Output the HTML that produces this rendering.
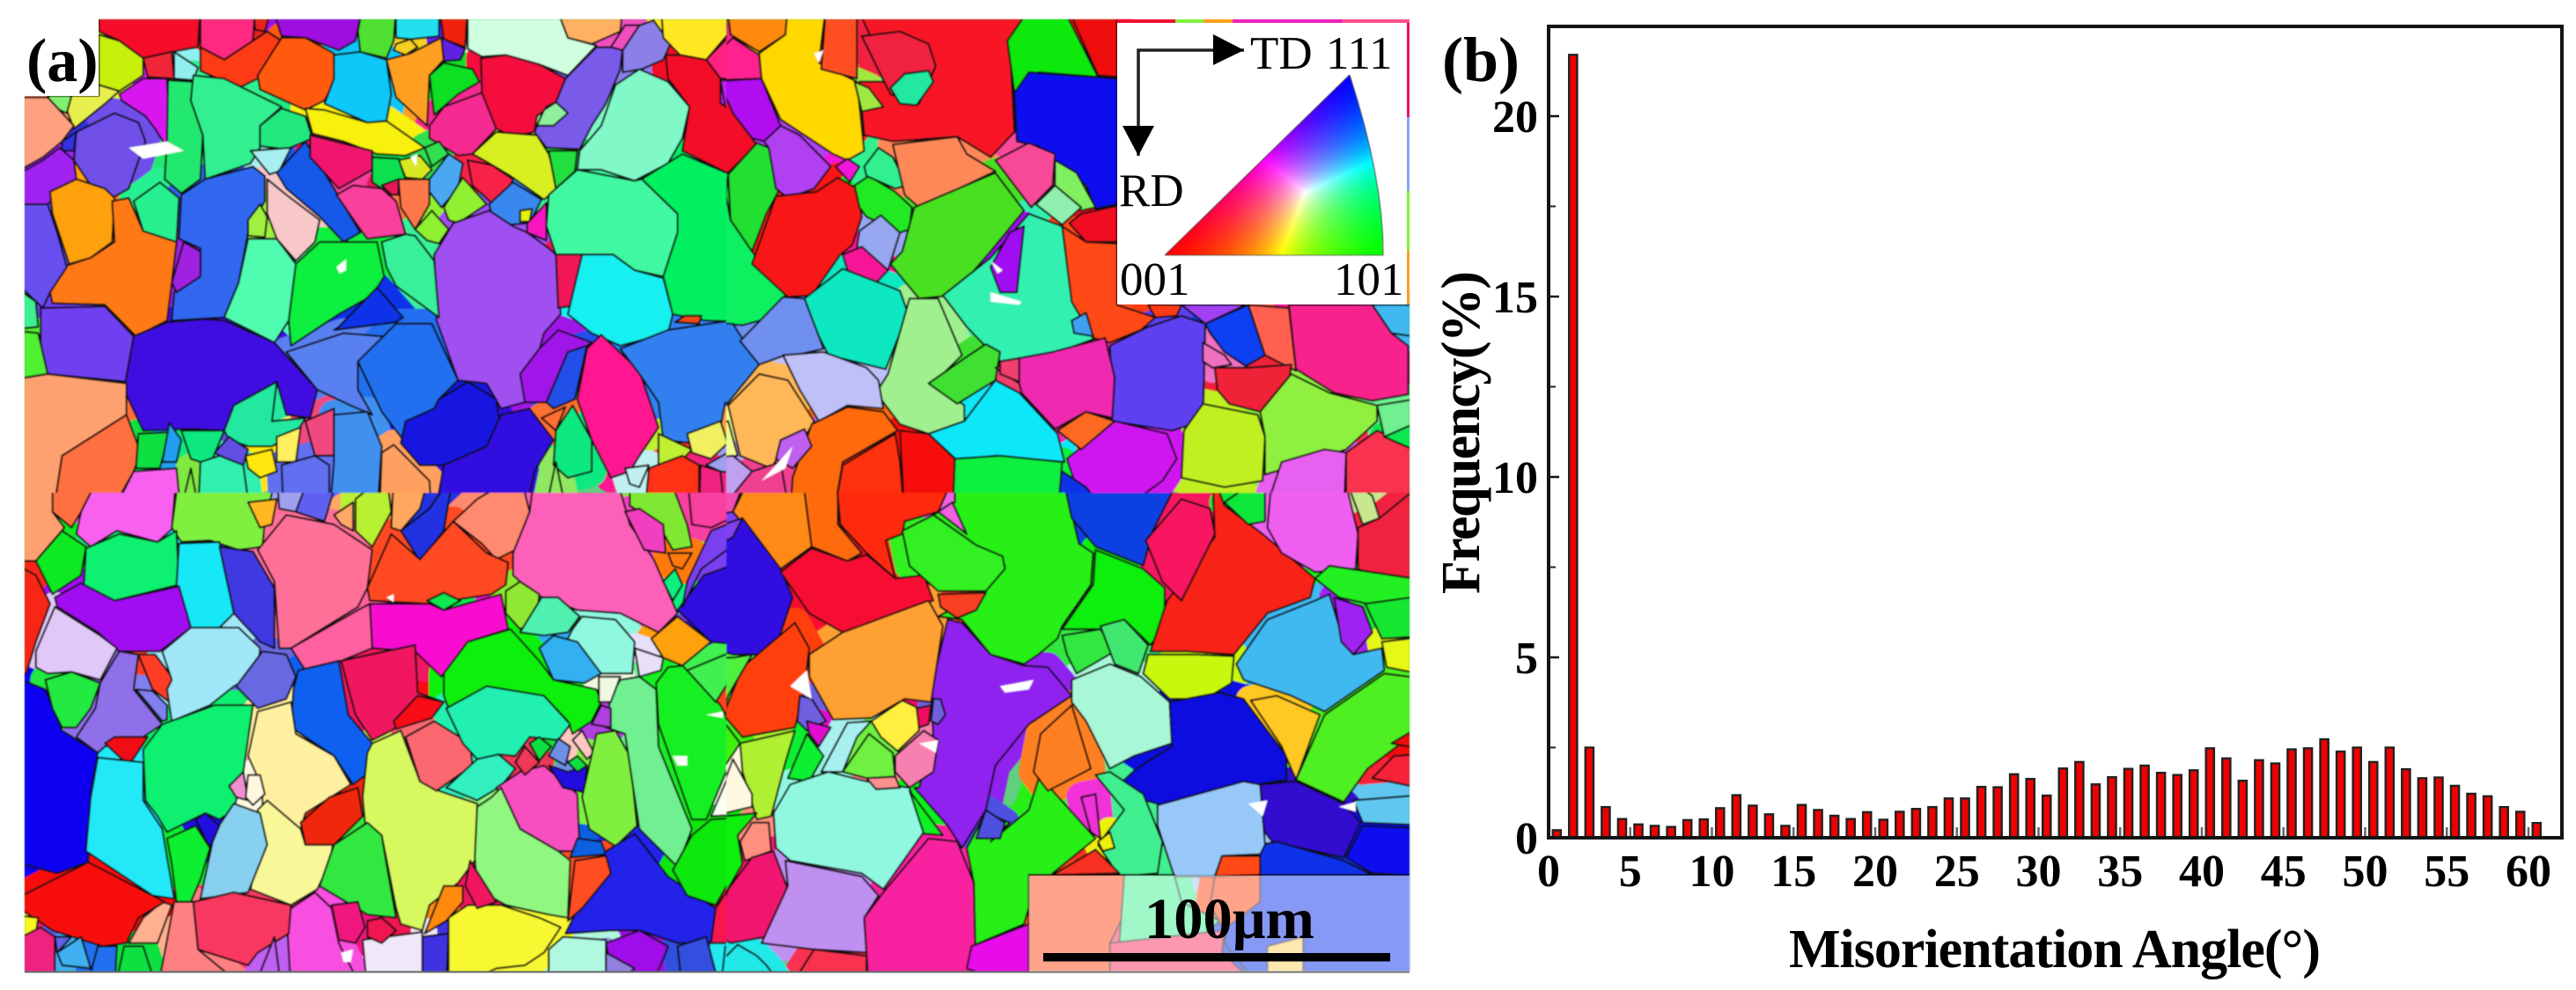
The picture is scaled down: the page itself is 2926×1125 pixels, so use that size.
<!DOCTYPE html>
<html lang="en">
<head>
<meta charset="utf-8">
<title>EBSD orientation map and misorientation histogram</title>
<style>
html,body{margin:0;padding:0;background:#fff;}
#fig{position:relative;width:2926px;height:1125px;overflow:hidden;background:#fff;}
svg{position:absolute;left:0;top:0;}
#ipf{position:absolute;left:1323px;top:85px;}
text{font-family:"Liberation Serif",serif;fill:#000;}
</style>
</head>
<body>
<div id="fig">
<svg id="svg" width="2926" height="1125" viewBox="0 0 2926 1125" xmlns="http://www.w3.org/2000/svg">
  <defs>
    <clipPath id="cTL"><rect x="28" y="22" width="797" height="538"/></clipPath>
    <clipPath id="cTR"><rect x="825" y="22" width="776" height="538"/></clipPath>
    <clipPath id="cBL"><rect x="28" y="560" width="797" height="544"/></clipPath>
    <clipPath id="cBR"><rect x="825" y="560" width="776" height="544"/></clipPath>
    <filter id="soft" filterUnits="userSpaceOnUse" x="0" y="0" width="2926" height="1125"><feGaussianBlur stdDeviation="0.8"/></filter>
  </defs>
  <rect x="28" y="22" width="1573" height="1082" fill="#60d080"/>
  <g id="map" filter="url(#soft)"></g>
  <line x1="28" y1="1104.5" x2="1601" y2="1104.5" stroke="#666" stroke-width="2"/>
  <rect x="0" y="0" width="112" height="109" fill="#fff"/>
  <text x="30" y="92" font-size="70" font-weight="bold">(a)</text>

  <g>
    <rect x="1269" y="22" width="66" height="5" fill="#f01030"/>
    <rect x="1335" y="22" width="32" height="5" fill="#80f040"/>
    <rect x="1367" y="22" width="33" height="5" fill="#ffa020"/>
    <rect x="1400" y="22" width="125" height="5" fill="#f020c0"/>
    <rect x="1525" y="22" width="76" height="5" fill="#ff5090"/>
    <rect x="1597" y="26" width="4" height="107" fill="#f01060"/>
    <rect x="1597" y="133" width="4" height="84" fill="#90a0f8"/>
    <rect x="1597" y="217" width="4" height="68" fill="#80f040"/>
    <rect x="1597" y="285" width="4" height="61" fill="#ffa020"/>
  </g>
  <g>
    <rect x="1269" y="26" width="329" height="320" fill="#fff"/>
    <polyline points="1413,57 1293,57 1293,177" fill="none" stroke="#222" stroke-width="3.5"/>
    <polygon points="1378,39 1413,57 1378,74" fill="#000"/>
    <polygon points="1275,143 1311,143 1293,177" fill="#000"/>
    <text x="1420" y="78" font-size="53">TD</text>
    <text x="1506" y="78" font-size="53">111</text>
    <text x="1271" y="234" font-size="53">RD</text>
    <text x="1272" y="335" font-size="53">001</text>
    <text x="1515" y="335" font-size="53">101</text>
  </g>

  <g>
    <rect x="1168.5" y="995" width="432.5" height="109" fill="#fff" fill-opacity="0.5"/>
    <text x="1300" y="1066" font-size="66" font-weight="bold" textLength="193" lengthAdjust="spacingAndGlyphs">100μm</text>
    <rect x="1185" y="1083" width="394" height="9.5" fill="#000"/>
  </g>

  <text x="1638" y="92" font-size="72" font-weight="bold">(b)</text>
  <g id="chart"></g>
</svg>
<canvas id="ipf" width="252" height="208"></canvas>
</div>

<script>
// ---------- Histogram data ----------
const binCenters = [0.5,1.5,2.5,3.5,4.5,5.5,6.5,7.5,8.5,9.5,10.5,11.5,12.5,13.5,14.5,15.5,16.5,17.5,18.5,19.5,20.5,21.5,22.5,23.5,24.5,25.5,26.5,27.5,28.5,29.5,30.5,31.5,32.5,33.5,34.5,35.5,36.5,37.5,38.5,39.5,40.5,41.5,42.5,43.5,44.5,45.5,46.5,47.5,48.5,49.5,50.5,51.5,52.5,53.5,54.5,55.5,56.5,57.5,58.5,59.5,60.5];
const frequency = [0.21,21.7,2.5,0.85,0.52,0.37,0.33,0.30,0.49,0.51,0.82,1.18,0.89,0.65,0.33,0.91,0.77,0.61,0.52,0.71,0.50,0.72,0.80,0.85,1.09,1.09,1.41,1.40,1.76,1.63,1.17,1.92,2.10,1.48,1.68,1.91,2.00,1.80,1.74,1.87,2.48,2.20,1.58,2.15,2.06,2.45,2.48,2.73,2.39,2.50,2.10,2.50,1.90,1.65,1.67,1.44,1.22,1.15,0.85,0.72,0.41];
const xTickLabels = ["0","5","10","15","20","25","30","35","40","45","50","55","60"];
const yTickLabels = ["0","5","10","15","20"];
const xAxisTitle = "Misorientation Angle(°)";
const yAxisTitle = "Frequency(%)";

// ---------- Orientation map grains (traced regions of the micrograph) ----------
const grainsTL = [
"f5102a 207,62 420,62 415,150 360,165 300,185 250,130 207,100",
"ff2a80 420,62 535,62 530,130 470,190 420,150",
"ff3a18 420,150 470,190 530,130 560,100 590,130 540,250 500,280 420,225",
"e8201a 530,62 570,62 555,100 535,95",
"a010e0 570,62 760,62 745,130 710,160 640,120 590,115",
"ff5a10 590,120 640,120 700,170 705,250 680,320 640,350 545,285 540,240",
"50e030 760,62 830,62 825,130 810,185 755,165 750,100",
"20e0f0 830,62 920,62 920,115 860,125 830,120",
"ffa020 810,190 860,170 925,120 930,190 900,240 895,400 830,310",
"f5d020 830,140 860,125 875,150 850,175 825,160",
"f02010 920,62 980,62 975,150 930,125",
"6020e0 925,120 975,155 965,190 930,195",
"d0ffe0 980,62 1165,62 1190,120 1250,145 1190,240 1130,205 1060,175 1010,180 980,155",
"ffb060 1165,62 1305,62 1300,100 1240,140 1190,120",
"10c8f8 700,175 755,165 810,190 820,300 810,385 770,390 680,330 700,250",
"10e020 900,240 930,200 990,220 1005,260 960,300 910,365",
"f4083c 1008,185 1060,175 1130,205 1185,250 1165,325 1125,370 1120,420 1075,435 1040,410 1010,300",
"f52a90 900,400 930,340 1010,295 1040,410 990,490 960,495 900,440",
"7a5ae8 1185,250 1250,150 1305,150 1300,220 1270,330 1240,400 1215,475 1145,470 1120,420 1145,340 1165,325",
"90f0a0 1125,400 1140,350 1165,325 1190,360 1160,400",
"80f8c8 1210,540 1215,480 1260,400 1290,270 1340,220 1400,260 1445,340 1430,440 1400,520 1330,575 1260,540",
"8a80e8 1305,100 1370,65 1405,140 1390,190 1345,220 1305,230",
"f050c0 1280,150 1310,80 1340,80 1305,160",
"ffe820 1385,62 1525,62 1525,110 1480,190 1425,175 1390,120",
"ff8a10 1525,62 1568,62 1568,140 1530,110",
"ff2080 1525,120 1568,130 1568,255 1510,250 1480,190",
"f41028 1395,175 1425,175 1480,190 1510,250 1510,330 1568,440 1568,510 1530,555 1430,480 1445,340 1400,250",
"c020f0 1510,255 1568,255 1568,430 1520,340",
"c8f010 207,110 250,130 300,185 300,240 250,290 207,270",
"f02838 300,185 360,165 365,250 310,245",
"90f0f0 365,165 415,215 405,255 365,250",
"d818f0 250,300 300,250 350,250 355,430 350,470 325,410 305,370 255,320",
"e8f050 150,305 207,305 207,270 250,290 220,330 155,410 140,350",
"80f070 100,305 150,305 140,360 110,340",
"ffa080 52,310 100,310 155,400 130,450 90,500 52,560",
"20e870 352,255 405,260 400,320 425,430 420,570 380,615 345,570 350,450",
"30f090 405,240 470,250 590,340 545,400 545,470 525,520 430,570 425,430 400,320",
"20e880 545,400 590,345 640,370 655,440 600,475 545,465",
"f8f010 640,345 680,350 770,390 810,385 890,470 850,495 790,490 720,450 655,425",
"7050e8 160,420 240,360 290,390 305,450 295,490 270,600 235,630 190,590 155,510",
"3030e0 130,450 160,420 155,480 130,480",
"a020f0 52,570 90,510 125,470 155,510 160,570 100,650 52,650",
"ffa008 105,610 160,570 220,600 240,630 235,770 190,820 145,840 110,680",
"ff7a18 235,640 270,630 300,735 370,770 360,900 350,1020 285,1070 220,970 110,965 105,930 140,845 190,820 240,770",
"28f090 280,640 335,580 375,630 370,770 300,735",
"3068f0 380,620 430,570 530,530 555,560 555,640 520,740 500,900 470,1010 360,1020 365,930 420,860 420,790 375,760",
"a8f0f0 525,480 610,470 585,545 565,555",
"1858e8 580,550 640,450 700,600 755,740 720,770 670,690 600,600",
"f8c8c8 560,570 600,620 670,700 660,770 620,830 580,760 560,680",
"f01870 650,430 780,480 780,540 710,600 650,500",
"d8e820 835,510 880,495 905,540 885,570 850,565",
"10e050 780,500 835,505 850,570 800,600 780,580",
"f8409c 705,620 740,590 800,600 830,640 850,745 770,760 755,730",
"e81858 800,590 835,570 835,620 820,620",
"ff7848 835,570 900,570 900,650 870,730 840,660",
"48a8f0 900,570 940,490 970,520 960,600 925,660 900,610",
"30e050 890,470 920,450 940,490 905,530",
"90f030 930,660 970,565 1020,650 960,710 940,700",
"90f030 870,730 905,670 940,730 920,775 895,765",
"d8f020 990,490 1040,420 1125,430 1150,490 1170,600 1140,635 1070,560 1020,515",
"f8204a 980,510 1030,525 1075,570 1060,630 1030,645 990,590",
"3888f0 1025,650 1075,580 1135,635 1110,710 1065,715 1030,680",
"e8f010 1090,670 1115,665 1110,705 1090,705",
"f818c0 1105,710 1145,645 1145,765 1105,740",
"20e040 1150,480 1210,480 1205,545 1165,600",
"40f8a0 1150,620 1210,540 1330,575 1345,570 1420,680 1420,740 1390,880 1330,860 1285,810 1165,810 1145,720",
"a050f0 910,810 950,710 1025,670 1075,720 1105,740 1150,790 1165,810 1175,1000 1140,1060 1100,1280 1050,1300 1020,1220 960,1210 915,1020",
"f01858 1165,810 1220,810 1215,970 1170,980",
"18f0f0 1220,810 1285,810 1330,860 1390,885 1410,1000 1400,1060 1300,1100 1240,1060 1190,1000",
"00f060 1345,570 1430,490 1530,555 1568,570 1568,1030 1480,1020 1410,1000 1390,880 1420,740 1420,680",
"f04818 1415,1025 1435,1005 1470,1005 1465,1030",
"38f098 800,770 850,745 870,750 910,830 920,1010 830,910 810,850",
"10f040 620,840 670,770 720,770 790,770 805,880 780,940 710,1000 610,1100 605,1020",
"50fcb0 520,760 580,760 620,840 605,1020 575,1090 470,1010 500,900",
"0830e8 710,1040 790,915 845,1010 830,1025 700,1050",
"a0f040 520,700 545,650 560,690 555,755 520,750",
"a020e0 360,900 385,770 420,800 420,880 370,930",
"6850f0 52,650 100,650 120,740 140,850 105,930 90,980 52,880",
"40f090 52,900 75,960 80,1040 52,1050",
"7040f0 85,980 220,975 280,1070 265,1215 100,1190 85,1100",
"4010e0 280,1070 350,1025 430,1015 470,1020 575,1090 665,1240 650,1330 600,1320 580,1215 490,1290 470,1370 400,1365 300,1370 260,1240",
"5880f0 600,1120 720,1060 800,1070 805,1090 750,1150 750,1240 780,1320 735,1290 665,1240",
"2070f0 750,1150 830,1030 905,1030 960,1210 920,1270 910,1300 850,1350 850,1410 800,1310",
"50f030 52,1050 80,1060 100,1190 52,1210",
"ffa070 52,1210 100,1190 265,1220 265,1320 130,1450 110,1568 52,1568",
"ff7040 130,1450 265,1320 295,1440 280,1500 225,1568 110,1568",
"f860f0 230,1568 280,1500 370,1490 380,1568",
"1818e0 920,1270 980,1215 1040,1270 1050,1380 1020,1420 930,1480 880,1480 840,1410 850,1340 910,1300",
"3010e0 1050,1320 1110,1300 1160,1400 1120,1500 1100,1568 910,1568 930,1480 1020,1420",
"ff1490 1210,1270 1230,1110 1260,1065 1340,1180 1380,1360 1340,1450 1320,1500 1280,1520 1240,1400",
"a018e8 1090,1190 1130,1110 1170,1050 1240,1090 1190,1140 1145,1280 1100,1280",
"2050e8 1145,1280 1190,1120 1230,1100 1205,1270 1160,1300",
"3080f0 1300,1110 1400,1050 1530,1020 1568,1120 1568,1240 1520,1280 1510,1360 1450,1410 1390,1400 1380,1280 1340,1190",
"10e880 1165,1370 1200,1290 1240,1400 1240,1500 1190,1520 1160,1480",
"ff7030 1135,1330 1185,1295 1165,1370",
"20e8a0 470,1370 490,1290 580,1215 570,1340 640,1330 620,1380 570,1420 520,1420 480,1400",
"10e040 290,1380 355,1375 335,1490 285,1490",
"20a0f0 355,1345 380,1400 370,1470 340,1470",
"10e880 380,1370 470,1370 440,1480 400,1460",
"6050e0 450,1440 480,1390 520,1430 510,1480 460,1450",
"fff060 580,1390 630,1360 620,1470 580,1470",
"ffe810 515,1450 570,1430 580,1500 545,1520 520,1490",
"f04880 640,1340 700,1300 700,1450 660,1450",
"4090f0 700,1320 770,1310 800,1420 790,1568 690,1568 700,1470",
"ffa060 800,1440 825,1415 900,1530 905,1568 795,1568",
"30f0b0 420,1470 460,1450 510,1480 525,1568 415,1568",
"6070f0 590,1480 660,1450 690,1480 690,1568 595,1568",
"80e840 375,1568 400,1490 420,1568",
"90e860 1140,1568 1165,1470 1190,1568",
"c0f030 1380,1380 1450,1430 1420,1480 1380,1480",
"f0f060 1440,1380 1510,1340 1525,1410 1490,1460 1450,1440",
"ff3018 1360,1490 1430,1450 1465,1480 1465,1568 1350,1568",
"c0f0f0 1310,1490 1360,1480 1340,1550 1320,1540",
"ffa040 1530,1340 1568,1210 1568,1500 1535,1460",
"a0a0f0 1480,1480 1525,1440 1568,1460 1568,1530 1510,1500",
"f02080 1468,1480 1510,1500 1520,1568 1465,1568"
];
const grainsTR = [
"ffe820 0,62 48,62 45,120 0,190",
"ff8a10 48,62 175,62 170,110 115,165 55,110",
"ff2090 10,195 60,120 115,175 120,250 30,255",
"f41028 0,195 30,260 60,360 110,460 50,550 0,510",
"b010f0 30,258 120,250 160,400 125,450 100,440 60,360",
"ffd800 115,170 170,110 175,62 255,62 240,200 320,260 335,480 300,510 270,490 200,420 160,380 120,250",
"ff5020 255,62 320,62 320,130 320,250 245,220",
"f81828 320,62 685,62 640,130 650,420 600,500 530,435 395,450 335,430 325,260 390,260",
"f02040 330,115 410,100 470,140 485,210 450,330 390,300",
"20e8a0 390,280 420,235 470,225 480,260 445,335 410,330",
"a0e840 315,260 345,280 375,340 330,355",
"10e810 635,130 685,62 750,62 825,245 700,230 650,295",
"f00810 760,62 865,62 865,245 825,240",
"0808f0 650,295 680,230 865,250 865,650 820,665 800,590 730,505 700,465 655,450",
"80f060 735,510 780,550 820,660 790,670 735,590",
"90f0b0 695,650 735,590 790,660 750,715",
"f00a20 765,710 790,680 865,655 865,770 800,770",
"f84898 610,510 680,455 735,490 730,590 685,660",
"10f060 0,530 50,550 45,620 55,700 100,800 170,940 165,1000 80,1035 0,1010",
"20e030 50,555 110,455 135,470 155,610 130,680 100,800 55,700",
"b040f0 125,450 160,400 200,430 265,530 230,600 175,630 150,600 135,470",
"f018d8 275,530 300,505 325,530 305,580",
"f81818 100,840 150,625 235,610 280,565 320,600 330,690 310,780 285,810 225,940 175,945",
"20ea20 315,590 345,560 400,610 435,660 430,730 410,740 340,690 325,660",
"30f090 335,530 365,470 395,500 425,590 400,600 340,560",
"ff8858 395,460 530,435 550,490 610,545 450,660 420,620",
"48e020 415,800 440,660 610,550 670,670 600,800 520,940 450,950 390,840",
"98a8f0 325,735 370,685 410,740 385,860 320,785",
"f81898 290,810 330,785 385,860 360,900 300,860",
"10e8c0 210,950 290,855 350,890 410,925 425,990 410,1060 380,1175 260,1130 230,1040",
"30f0b0 500,940 600,820 680,680 750,720 760,810 790,970 815,1080 740,1120 620,1150 550,1040",
"a0f090 385,1190 430,950 490,950 540,1130 480,1220 545,1290 545,1340 470,1380 410,1350 360,1250",
"40e030 470,1220 555,1130 590,1095 620,1120 610,1210 530,1285",
"a010f0 600,850 640,740 670,720 655,930 620,930",
"ff4a18 750,720 800,770 865,775 865,970 945,1010 915,1050 850,1090 815,1075 770,960",
"40a0f0 770,1020 800,995 815,1070 775,1060",
"ff3a18 930,970 1000,970 990,1005 945,1010",
"a040f0 1000,970 1135,970 1050,1030",
"5f40f0 850,1100 930,1040 1000,1005 1050,1030 1045,1340 980,1370 855,1340",
"0840f0 1050,1030 1140,970 1175,1130 1135,1165 1090,1120 1060,1060",
"ff6050 1140,970 1225,980 1240,1180 1175,1130",
"f8208c 1225,970 1400,970 1440,1060 1475,1100 1475,1255 1400,1275 1320,1250 1240,1175",
"40b8f0 1400,970 1478,970 1478,1080 1440,1060",
"f02038 1070,1170 1140,1170 1230,1160 1225,1230 1165,1310 1100,1285 1075,1240",
"f070c0 1045,1090 1090,1130 1105,1160 1065,1170 1045,1150",
"c0f020 1005,1370 1045,1285 1160,1320 1175,1390 1170,1530 1090,1550 1000,1520",
"90f040 1165,1310 1230,1190 1310,1250 1410,1290 1410,1340 1345,1430 1220,1490 1175,1510 1175,1390",
"f83050 1345,1440 1410,1370 1478,1450 1478,1568 1345,1568",
"70f090 1410,1290 1478,1260 1478,1320 1425,1390",
"10e850 1425,1390 1478,1320 1478,1460",
"e860f0 1170,1568 1210,1470 1300,1430 1345,1440 1340,1568",
"d018f0 760,1460 860,1340 970,1380 990,1460 960,1530 850,1568 775,1530",
"1030e8 740,1490 800,1550 850,1568 740,1568",
"ff6a20 740,1370 800,1310 860,1340 790,1430",
"10e8f8 470,1380 545,1340 610,1210 660,1250 740,1380 755,1470 610,1450 530,1465",
"f02cb0 610,1170 660,1140 730,1120 840,1075 860,1200 855,1330 800,1310 735,1365 665,1250 660,1220",
"f04070 620,1150 660,1140 660,1215 620,1190",
"3080f0 0,1030 60,1030 115,1160 45,1290 0,1380",
"7090f0 75,1085 165,945 210,950 250,1110 190,1130 170,1130 115,1160",
"c0c0f8 165,1130 250,1120 340,1170 365,1210 375,1300 300,1290 240,1340 200,1240",
"ffb858 50,1290 115,1190 175,1210 230,1340 200,1420 160,1440 140,1490 75,1450",
"f0ff90 0,1400 50,1340 70,1450 0,1470",
"ff6a10 185,1520 225,1350 300,1295 375,1310 405,1370 290,1470 270,1568 180,1568",
"ff3010 270,1568 290,1480 400,1380 410,1470 420,1568",
"f81010 410,1370 470,1380 525,1460 525,1568 420,1568",
"10f040 525,1460 620,1450 750,1470 740,1568 520,1568",
"c060f0 160,1400 210,1365 225,1420 185,1490 150,1460",
"c0a0f0 0,1480 60,1450 100,1500 20,1568 0,1568",
"f04090 100,1500 160,1470 180,1568 20,1568"
];
const grainsBL = [
"ffa070 52,0 110,0 110,60 135,110 75,215 52,215",
"ff7040 110,0 210,0 170,60 150,110 110,60",
"f860f0 210,0 370,0 360,115 330,155 245,120 190,170 160,130 170,60",
"80f040 375,0 580,0 555,90 550,170 500,180 440,150 380,155 360,110",
"ffb820 520,30 580,20 570,100 545,110",
"a0a0f0 580,0 650,0 620,60 585,50",
"6060f0 620,60 650,0 710,0 680,90",
"ffa868 700,70 740,30 740,120 715,100",
"b8f030 745,20 810,0 820,60 780,170 745,120",
"ffa860 825,0 900,0 880,50 840,120 820,110",
"2030e0 840,120 900,50 950,0 930,120 880,215",
"ff8a70 950,90 1000,20 1090,0 1110,60 1080,180 1040,210 1010,160",
"fc60b8 1075,190 1110,60 1120,0 1290,0 1320,100 1370,210 1420,380 1380,440 1300,380 1210,370 1120,320 1075,260",
"10ea20 75,215 130,120 180,170 170,260 110,320",
"10f070 180,175 250,130 330,155 370,120 375,290 240,340 175,310",
"18e8f8 375,160 460,155 490,380 460,425 400,425 370,290",
"4038e0 460,170 530,185 575,300 575,490 545,470 490,380",
"ff7098 540,180 600,70 700,100 780,180 770,300 750,360 610,490 585,490 575,280",
"ff4a20 770,300 820,130 880,210 950,90 1020,190 1065,220 1060,290 1030,320 900,350 775,340",
"f810d0 775,350 900,350 930,370 1050,320 1065,430 980,470 925,580 870,500 780,490",
"10e850 895,340 930,315 965,340 930,370",
"ff60a0 610,490 750,370 775,350 780,490 715,530 640,560",
"90e830 1060,310 1090,280 1130,320 1125,400 1090,430 1060,380",
"50f0b0 1090,440 1135,330 1170,330 1215,390 1190,440 1140,450",
"90f8e0 1200,430 1220,390 1290,400 1330,470 1325,570 1255,570 1190,460",
"30b0f0 1130,490 1160,450 1210,470 1260,570 1225,600 1160,590",
"ffa010 1365,460 1420,390 1490,470 1430,545 1390,520",
"e8e0f8 1330,490 1390,520 1385,560 1340,580",
"3010e0 1420,370 1475,260 1568,140 1568,500 1490,470",
"7a40f0 1430,360 1440,280 1490,120 1540,90 1550,150 1470,240",
"10f080 1390,280 1415,240 1430,290 1410,340",
"80e830 1320,0 1400,0 1440,100 1450,170 1410,180 1380,100 1320,40",
"f040c0 1310,60 1340,50 1390,100 1395,190 1350,180",
"f840a0 1440,0 1568,0 1560,60 1490,110 1450,100",
"ff7a10 1400,190 1450,190 1430,240 1410,230",
"f82818 52,215 75,260 105,350 75,470 55,570 52,570",
"a010f0 115,330 170,285 240,340 375,295 400,425 335,500 250,500 205,440 120,360",
"e0c8f8 75,500 115,360 210,450 245,490 210,590 150,565 100,570 75,550",
"1000f0 52,575 95,620 130,750 205,820 190,950 185,1165 120,1200 52,1160",
"20ea40 95,590 150,565 210,600 190,680 160,740 130,740 110,680",
"9070e8 160,770 200,680 210,600 250,500 290,510 280,620 340,730 300,770 220,800 205,820",
"ff3c28 290,510 325,510 365,590 355,660 320,620",
"8080f0 285,620 320,625 350,670 350,715 340,720",
"a0e8f8 340,500 400,425 500,425 545,490 540,570 490,610 440,670 360,720 350,620 360,590",
"6868e0 495,610 550,500 600,510 620,580 600,650 540,680",
"1060f0 615,620 625,560 710,530 730,700 780,790 775,880 740,920 700,830 610,740",
"f01860 715,530 870,480 875,630 930,660 820,750 780,780 745,700",
"f80818 825,720 875,640 930,660 905,710 830,745",
"f00818 220,790 240,770 310,770 270,860",
"10f070 300,810 340,730 450,670 530,670 510,880 490,1000 460,1030 430,1010 350,1070 330,1020 305,970",
"20e8f8 205,835 300,850 300,970 340,1060 365,1280 320,1270 180,1130 190,960",
"fff0a0 520,830 540,690 610,660 620,760 700,830 735,920 640,1010 630,1060 550,990 550,930",
"f8f898 540,1000 560,970 630,1060 640,1110 700,1090 690,1170 665,1250 610,1300 525,1250 550,1070",
"88d0f0 420,1280 450,1070 490,980 545,1010 560,1110 520,1260",
"10f030 360,1170 350,1090 410,1050 440,1120 420,1220 400,1290 370,1290",
"2010e0 410,1030 430,1010 460,1050 440,1120",
"f090d0 480,925 510,880 520,970 495,960",
"fff8e0 520,890 545,890 555,950 530,985 515,960",
"d8f860 770,820 780,790 840,750 880,910 920,940 1000,980 1000,1100 1000,1150 960,1230 900,1300 885,1380 840,1360 830,1310 800,1080 765,1040 760,960",
"f02810 630,1040 690,960 750,930 760,1020 700,1110 640,1110",
"30e840 670,1240 700,1110 770,1040 800,1080 810,1170 830,1340 770,1330",
"fc6870 850,770 910,720 985,790 990,860 915,940 880,910",
"10f010 930,640 930,570 980,470 1070,430 1130,530 1160,590 1250,620 1260,660 1240,720 1200,760 1190,720 1140,640 1020,610 940,680",
"20f0b0 935,680 1020,610 1140,640 1195,730 1170,780 1110,770 1080,830 1045,825 1000,840 970,790",
"30f0c0 935,930 1000,840 1045,825 1080,870 1050,925 1000,970",
"f850c0 1040,930 1090,880 1140,860 1210,950 1215,1130 1170,1130 1090,1060",
"90f880 1000,990 1030,960 1050,930 1090,1060 1170,1130 1195,1160 1190,1340 1150,1330 1060,1300 1000,1250 995,1150",
"2010e0 1150,860 1190,880 1230,860 1225,945 1180,930",
"10e040 1190,850 1210,830 1230,860 1210,880",
"7090e8 1150,830 1170,775 1195,800 1185,860",
"10e040 1110,790 1130,770 1155,800 1130,845",
"f03858 1080,850 1100,800 1130,850 1100,890",
"ffc8c0 1200,780 1220,750 1245,820 1230,840",
"80f040 1220,960 1250,760 1290,750 1320,830 1335,1050 1290,1115 1235,1060",
"70f090 1280,640 1300,590 1340,580 1375,620 1380,800 1450,1060 1420,1180 1340,1060 1310,760 1270,740",
"18f020 1375,600 1400,550 1430,545 1510,670 1545,770 1530,850 1480,1030 1450,1030 1380,730",
"f8fff0 1490,1020 1530,880 1568,830 1568,1000",
"40f050 1440,560 1520,510 1568,520 1530,590 1500,660",
"ff4020 1520,700 1560,560 1568,560 1568,780 1530,750",
"88e830 1555,780 1568,770 1568,850 1550,850",
"f0f8e0 1255,580 1300,580 1280,660 1255,660",
"b040e0 1240,730 1260,670 1280,680 1280,740",
"1060e0 1195,1150 1210,1090 1260,1100 1270,1140",
"2020e8 1185,1390 1270,1130 1330,1075 1400,1210 1500,1310 1490,1420 1420,1420 1340,1380 1280,1380",
"ff5020 1190,1350 1205,1160 1270,1145 1280,1200 1220,1310",
"10e810 1410,1190 1450,1080 1490,1030 1568,1010 1568,1090 1530,1220 1500,1300 1440,1270",
"f81850 1500,1310 1530,1240 1568,1130 1568,1420 1490,1420",
"a010e8 1270,1420 1340,1380 1400,1430 1390,1470 1360,1510 1290,1510",
"3050e0 1420,1430 1480,1400 1510,1510 1430,1510",
"b0f8e0 1150,1440 1180,1400 1270,1410 1270,1510 1150,1510",
"f8f830 940,1340 980,1300 1050,1300 1130,1340 1175,1370 1140,1450 1100,1490 1040,1500 940,1510",
"ff8a10 890,1390 930,1240 970,1240 970,1290 935,1350",
"f01860 975,1240 985,1160 1040,1290 1000,1310",
"4030e0 885,1400 940,1390 935,1510 885,1510",
"f0e8f8 760,1410 885,1385 885,1510 770,1510",
"f01850 770,1350 800,1340 830,1380 800,1420 770,1400",
"f01880 695,1300 750,1290 765,1370 745,1420 710,1410",
"f850e0 600,1320 660,1260 695,1310 710,1420 760,1510 610,1510",
"f83860 405,1290 490,1260 610,1300 605,1390 540,1450 520,1490 415,1440",
"ff8080 330,1510 365,1290 405,1290 415,1440 520,1510",
"ffb090 270,1420 300,1340 340,1290 360,1300 330,1420",
"f80810 52,1290 185,1165 345,1290 290,1340 265,1420 215,1430 110,1380",
"f8f820 52,1330 80,1340 75,1390 52,1420",
"f02080 52,1420 85,1370 115,1400 115,1510 52,1510",
"6060e8 115,1400 150,1400 120,1450",
"40b0f0 120,1450 170,1400 190,1500 130,1490",
"2070f0 180,1510 205,1430 245,1430 240,1510",
"10e040 240,1510 260,1430 300,1430 330,1510",
"c060f0 530,1510 575,1400 590,1510",
"20e8f0 1510,1510 1520,1430 1568,1420 1568,1510",
"9080e0 1270,1450 1330,1500 1270,1510"
];
const grainsBR = [
"f050b0 0,0 90,0 60,60 0,100",
"ff8a18 60,60 100,0 205,0 225,170 160,240 100,130",
"ff6a10 205,0 280,0 280,100 330,190 300,215 225,170",
"ff2a10 275,0 525,0 490,60 420,90 415,130 380,150 400,270 340,190 285,100",
"3010e0 0,190 80,80 160,240 185,330 145,510 60,510 0,440",
"8040f0 0,170 80,80 60,140 0,260",
"f81030 160,250 225,175 300,215 340,195 400,270 460,260 480,340 290,440 220,380",
"28f018 525,0 750,0 785,160 815,190 810,290 750,420 740,460 700,510 670,540 600,510 540,400 490,390 590,310 630,230 570,165 480,70 525,30",
"30f020 415,120 480,70 570,165 625,200 630,240 590,310 490,310 430,230",
"f060e0 490,60 520,30 550,130",
"0840e0 750,0 1000,0 940,120 920,230 820,170 770,80",
"10f010 820,180 920,240 965,300 965,420 935,480 880,400 835,430 750,430 815,290",
"f82018 1065,0 1090,40 1170,130 1280,270 1270,330 1180,380 1110,510 1010,500 935,500 970,340 1070,140",
"f81860 925,150 1000,20 1060,50 1070,130 1000,340 960,280",
"10e838 1090,30 1175,0 1175,90 1140,100",
"f060f0 1180,110 1190,0 1340,0 1370,130 1365,240 1280,250 1210,190",
"c8e890 1340,0 1400,10 1415,80 1380,100",
"f02040 1370,110 1415,80 1478,0 1478,280 1420,270 1370,240",
"20f020 1280,270 1310,230 1478,280 1478,340 1390,350 1330,330",
"40b8f0 1115,540 1180,400 1280,340 1310,320 1330,420 1360,510 1420,490 1425,560 1300,690 1230,640 1130,590",
"a020f0 1320,330 1380,360 1400,440 1360,510 1335,470",
"18e830 1385,350 1478,320 1478,450 1420,460",
"e8f818 1420,470 1478,450 1478,580 1430,550",
"c8f810 920,570 930,510 1030,510 1110,515 1105,600 1050,650 975,650",
"30e840 750,450 830,430 860,500 780,570 760,510",
"40e870 830,420 880,400 930,480 910,570 860,540",
"a8f8d8 770,590 850,540 915,580 975,660 980,790 900,830 850,870 800,720 770,660",
"0810e0 870,920 905,870 980,800 975,660 1080,630 1130,650 1220,830 1220,905 1160,920 1080,940 960,985 900,960",
"ffc820 1145,655 1200,640 1290,700 1240,905 1210,800",
"50f020 1240,905 1300,700 1425,570 1478,590 1478,710 1390,870 1340,975",
"f82038 1400,900 1445,830 1478,820 1478,940",
"f01010 1440,790 1478,710 1478,815",
"60c8f0 1360,970 1478,950 1478,1050 1380,1040",
"3010d0 1165,920 1240,910 1340,980 1375,1040 1340,1150 1190,1100 1170,1060",
"0808f0 1345,1150 1380,1050 1478,1060 1478,1210 1400,1200",
"1030e8 1165,1110 1200,1100 1340,1160 1400,1205 1165,1205",
"98c8f8 950,1050 950,985 1130,910 1165,920 1175,1110 1165,1140 1085,1145 1070,1210 985,1210",
"ff4a18 1070,1210 1085,1145 1165,1145 1165,1210",
"28f018 520,1440 565,1230 550,1120 590,1010 640,1040 600,1100 680,1000 705,880 730,940 820,1090 730,1200 680,1310 670,1360 560,1430",
"9020f0 450,930 480,780 475,620 510,400 540,410 600,510 670,545 720,550 770,640 680,730 610,860 590,1000 540,1120 510,1050 440,930",
"40f090 825,1110 880,1000 820,890 850,880 920,950 960,1100 950,1200 870,1210",
"f83020 730,1205 820,1125 870,1200",
"ff8020 690,880 705,760 770,670 810,870 720,940",
"f84020 490,320 590,315 570,370 530,395 495,360",
"ffa030 220,510 290,440 470,340 500,420 475,660 420,650 350,710 270,715 220,580",
"fff040 350,720 415,655 450,680 450,750 405,815 370,770",
"f01060 445,680 475,670 470,730 450,740",
"7060e0 480,650 495,650 505,700 490,730 475,720",
"f880b0 400,830 460,750 490,780 480,880 430,930 400,880",
"ff4010 40,700 80,550 190,410 220,490 210,620 190,740 80,770",
"7060e0 195,720 200,640 225,650 255,720 215,750",
"e010d0 215,720 240,730 265,740 240,800 220,760",
"b0f030 75,790 190,750 170,850 140,1020 110,1030 80,880",
"40f010 0,760 40,720 75,790 35,880 0,1000",
"50f040 0,520 60,520 100,510 50,640 40,690 0,680",
"fff8e0 15,1020 60,840 100,950 100,990",
"10f010 0,1040 110,1010 70,1080 80,1170 30,1300 0,1290",
"10f030 175,900 215,760 250,830 220,910",
"a8f0f0 245,880 300,725 350,720 320,770 290,880",
"70f040 290,880 345,760 395,820 400,900 340,900",
"90f8e0 145,1010 180,920 260,880 340,910 430,930 460,1070 375,1250 330,1200 180,1160 150,1120",
"ff9090 340,900 400,895 410,930 360,935",
"10f020 430,940 500,1080 460,1075",
"ff9080 75,1100 100,1040 135,1040 140,1130 85,1160",
"f01870 20,1390 50,1250 100,1150 145,1130 175,1250 130,1400 55,1420",
"c090f0 120,1420 175,1240 170,1160 330,1210 365,1270 335,1340 340,1450 230,1440",
"f820a0 335,1340 375,1260 470,1090 530,1100 565,1230 570,1510 345,1510",
"e808e8 550,1500 560,1430 680,1360 680,1510",
"5050e0 570,1090 590,1000 630,1040 620,1090",
"f83050 175,1510 230,1440 340,1460 340,1510",
"20e8e8 40,1470 70,1425 110,1460 130,1490 170,1510 40,1510",
"4030e0 0,1510 0,1400 35,1510",
"3010e0 0,1290 20,1310 15,1400 0,1400",
"f030d8 790,960 820,950 830,1090 810,1070",
"f0f010 825,1100 850,1070 860,1120 835,1130",
"ff4a18 680,1205 880,1205 890,1300 850,1420 850,1510 680,1510",
"40f090 880,1205 985,1205 1000,1290 1080,1350 1040,1400 870,1420",
"f83060 850,1420 1090,1380 1085,1450 1170,1510 850,1510",
"ff4a18 1060,1300 1070,1210 1165,1205 1165,1290 1090,1380",
"1030e8 1165,1205 1478,1205 1478,1510 1170,1510 1090,1420 1095,1370 1165,1290",
"ffd060 1180,1430 1255,1400 1255,1510 1180,1510"
];
const specksTL = [
"270,470 350,450 385,480 300,505",
"705,850 725,825 725,860 712,870",
"860,500 875,490 872,530"
];
const specksTR = [
"600,930 665,960 660,970 600,960",
"600,830 625,860 615,870",
"230,170 250,160 240,200",
"150,1480 185,1420 170,1490 120,1530"
];
const specksBL = [
"715,1450 740,1440 735,1480 720,1480",
"1410,830 1440,830 1440,860 1420,860",
"810,330 825,320 825,345",
"1480,700 1515,690 1515,710"
];
const specksBR = [
"620,610 690,590 680,620 630,630",
"180,610 215,560 225,650",
"450,790 490,780 485,820",
"1140,980 1180,970 1170,1020",
"1330,990 1365,975 1365,1005"
];

// ---------- Axis functions ----------
function xScale(v){ return 1759 + v * 18.55; }
function yScale(v){ return 952 - v * 41; }

const NS = 'http://www.w3.org/2000/svg';
const chart = document.getElementById('chart');
const map = document.getElementById('map');

function mk(tag, attrs, parent){
  const el = document.createElementNS(NS, tag);
  for (const k in attrs) el.setAttribute(k, attrs[k]);
  parent.appendChild(el);
  return el;
}

// ---------- Map drawing ----------
function transformPoints(str, q){
  return str.trim().split(/\s+/).map(function(p){
    const c = p.split(',');
    let x = +c[0], y = +c[1];
    if (q.top){ if (y <= 62) y = 20; if (y >= 1568) y = 1650; }
    else { if (y <= 0) y = -60; if (y >= 1510) y = 1570; }
    if (q.left){ if (x <= 52) x = 20; if (x >= 1568) x = 1700; }
    else { if (x <= 0) x = -100; if (x >= 1478) x = 1530; }
    return (q.ox + x * q.kx).toFixed(1) + ',' + (q.oy + y * q.ky).toFixed(1);
  }).join(' ');
}
const quadTL = {id:'cTL', top:true,  left:true,  ox:0,   oy:0,   kx:1/1.845, ky:1/2.8};
const quadTR = {id:'cTR', top:true,  left:false, ox:800, oy:0,   kx:1/1.845, ky:1/2.8};
const quadBL = {id:'cBL', top:false, left:true,  ox:0,   oy:560, kx:1/1.845, ky:1/2.775};
const quadBR = {id:'cBR', top:false, left:false, ox:800, oy:560, kx:1/1.845, ky:1/2.775};

function drawQuad(grains, specks, q){
  const g = mk('g', {'clip-path':'url(#' + q.id + ')'}, map);
  
  
  // first pass: dilated colour underlay so small gaps between traced grains take a neighbour's colour
  grains.forEach(function(s){
    const i = s.indexOf(' ');
    const el = mk('polygon', {
      points: transformPoints(s.slice(i + 1), q),
      fill: '#' + s.slice(0, i),
      stroke: '#' + s.slice(0, i),
      'stroke-width': 34,
      'stroke-linejoin': 'round'
    }, g);
    
    
  });
  grains.forEach(function(s){
    const i = s.indexOf(' ');
    const el = mk('polygon', {
      points: transformPoints(s.slice(i + 1), q),
      fill: '#' + s.slice(0, i),
      stroke: '#111',
      'stroke-width': 2.2,
      'stroke-linejoin': 'round'
    }, g);
    
    
  });
  specks.forEach(function(s){
    const el = mk('polygon', {points: transformPoints(s, q), fill: '#fff'}, g);
    
    
  });
}
drawQuad(grainsTL, specksTL, quadTL);
drawQuad(grainsTR, specksTR, quadTR);
drawQuad(grainsBL, specksBL, quadBL);
drawQuad(grainsBR, specksBR, quadBR);

// ---------- Histogram drawing ----------
const xMaxValue = (2910 - 1759) / 18.55;
const yMaxValue = (952 - 30) / 41;

xTickLabels.forEach(function(lbl){
  const v = +lbl;
  const stub = mk('line', {x1:xScale(v), x2:xScale(v), y1:yScale(0), y2:yScale(0) - 12, stroke:'#666', 'stroke-width':2.5}, chart);
  
  
  const t = mk('text', {x:xScale(v), y:1007, 'font-size':52, 'font-weight':'bold', 'text-anchor':'middle'}, chart);
  t.textContent = lbl;
  
  
});

binCenters.forEach(function(c, i){
  const h = yScale(0) - yScale(frequency[i]);
  const bar = mk('rect', {x:xScale(c) - 4.6, y:yScale(frequency[i]), width:9.2, height:h, fill:'#f00000', stroke:'#222', 'stroke-width':2.4}, chart);
  
  
});

yTickLabels.forEach(function(lbl){
  const v = +lbl;
  const tk = mk('line', {x1:xScale(0), x2:xScale(0) + 12, y1:yScale(v), y2:yScale(v), stroke:'#111', 'stroke-width':2.5}, chart);
  
  
  const mv = v + 2.5;
  const mn = mk('line', {x1:xScale(0), x2:xScale(0) + 8, y1:yScale(mv), y2:yScale(mv), stroke:'#222', 'stroke-width':2}, chart);
  
  
  const t = mk('text', {x:1747, y:yScale(v) + 18, 'font-size':52, 'font-weight':'bold', 'text-anchor':'end'}, chart);
  t.textContent = lbl;
  
  
});

const frame = mk('rect', {x:xScale(0), y:yScale(yMaxValue), width:xScale(xMaxValue) - xScale(0), height:yScale(0) - yScale(yMaxValue), fill:'none', stroke:'#141414', 'stroke-width':4}, chart);



const xt = mk('text', {x:2032, y:1099, 'font-size':62, 'font-weight':'bold', textLength:604, lengthAdjust:'spacing'}, chart);
xt.textContent = xAxisTitle;



const yt = mk('text', {x:0, y:0, 'font-size':62, 'font-weight':'bold', textLength:367, lengthAdjust:'spacing', transform:'translate(1680,675) rotate(-90)'}, chart);
yt.textContent = yAxisTitle;



// ---------- IPF colour key ----------
(function(){
  const cv = document.getElementById('ipf');
  const ctx = cv.getContext('2d');
  const A = [0, 205], B = [248, 205], C = [210, 0], M = [159, 133];
  const det = (B[1]-C[1])*(A[0]-C[0]) + (C[0]-B[0])*(A[1]-C[1]);
  function bary(x, y){
    const u = ((B[1]-C[1])*(x-C[0]) + (C[0]-B[0])*(y-C[1])) / det;
    const v = ((C[1]-A[1])*(x-C[0]) + (A[0]-C[0])*(y-C[1])) / det;
    return [u, v, 1 - u - v];
  }
  const mid = bary(M[0], M[1]);
  const off = document.createElement('canvas');
  off.width = cv.width; off.height = cv.height;
  const oc = off.getContext('2d');
  const img = oc.createImageData(cv.width, cv.height);
  for (let y = 0; y < cv.height; y++) {
    for (let x = 0; x < cv.width; x++) {
      const b = bary(x, y);
      let r = Math.max(b[0], 0) / mid[0], g = Math.max(b[1], 0) / mid[1], bl = Math.max(b[2], 0) / mid[2];
      const m = Math.max(r, g, bl, 1e-6);
      r = Math.pow(r / m, 1.05); g = Math.pow(g / m, 1.05); bl = Math.pow(bl / m, 1.05);
      const i = (y * cv.width + x) * 4;
      img.data[i] = r * 255; img.data[i+1] = g * 255; img.data[i+2] = bl * 255; img.data[i+3] = 255;
    }
  }
  oc.putImageData(img, 0, 0);
  ctx.beginPath();
  ctx.moveTo(A[0], A[1]);
  ctx.lineTo(B[0], B[1]);
  ctx.quadraticCurveTo(249, 121, C[0], C[1]);
  ctx.closePath();
  ctx.save();
  ctx.clip();
  ctx.drawImage(off, 0, 0);
  ctx.restore();
  ctx.strokeStyle = 'rgba(60,60,60,0.7)';
  ctx.lineWidth = 1.2;
  ctx.stroke();
})();
</script>
</body>
</html>
